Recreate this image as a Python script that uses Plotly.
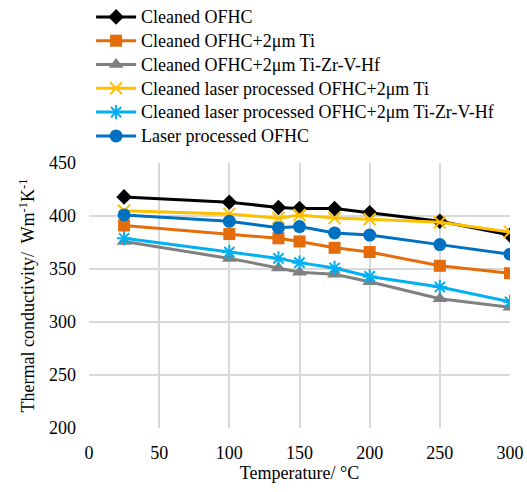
import plotly.graph_objects as go

temperature = [25, 100, 135, 150, 175, 200, 250, 300]

cleaned_ofhc = [418, 413, 408, 407, 407, 403, 395, 382]
cleaned_ofhc_ti = [391, 383, 379, 376, 370, 366, 353, 346]
cleaned_ofhc_tizrvhf = [376, 360, 351, 347, 345, 338, 322, 314]
cleaned_laser_ti = [405, 402, 398, 401, 398, 397, 394, 385]
cleaned_laser_tizrvhf = [379, 366, 360, 356, 351, 343, 333, 319]
laser_ofhc = [401, 395, 389, 390, 384, 382, 373, 364]

series = [
    ("Cleaned OFHC", cleaned_ofhc, "#000000", "diamond", 12, 0),
    ("Cleaned OFHC+2μm Ti", cleaned_ofhc_ti, "#E46C0A", "square", 12, 0),
    ("Cleaned OFHC+2μm Ti-Zr-V-Hf", cleaned_ofhc_tizrvhf, "#808080", "triangle-up", 13, 0),
    ("Cleaned laser processed OFHC+2μm Ti", cleaned_laser_ti, "#FFC000", "x-thin-open", 12, 2),
    ("Cleaned laser processed OFHC+2μm Ti-Zr-V-Hf", cleaned_laser_tizrvhf, "#00B0F0", "asterisk-open", 12, 2),
    ("Laser processed OFHC", laser_ofhc, "#0070C0", "circle", 13, 0),
]

fig = go.Figure()
for name, vals, color, symbol, size, mlw in series:
    marker = dict(symbol=symbol, size=size, color=color)
    if mlw:
        marker["line"] = dict(color=color, width=mlw)
    fig.add_trace(go.Scatter(
        x=temperature, y=vals,
        name=f"<span style='font-size:18px'>{name}</span>",
        mode="lines+markers",
        line=dict(color=color, width=3), marker=marker,
    ))

serif = "Times New Roman"
plot_px = 492 - 0 - 64

fig.update_layout(
    width=527, height=492,
    margin=dict(l=89, r=17, t=0, b=64, autoexpand=False),
    paper_bgcolor="white", plot_bgcolor="white",
    font=dict(family=serif, size=18, color="#000000"),
    showlegend=True,
    legend=dict(
        x=0.005, y=1.0, xanchor="left", yanchor="top",
        yref="paper", xref="paper",
        font=dict(family=serif, size=16, color="#000000"),
        itemwidth=40,
        bgcolor="rgba(0,0,0,0)",
        traceorder="normal",
    ),
    xaxis=dict(
        range=[0, 300], tickvals=[0, 50, 100, 150, 200, 250, 300],
        showgrid=True, gridcolor="#D9D9D9", gridwidth=2,
        zeroline=False, showline=False, ticks="", automargin=False,
        tickfont=dict(family=serif, size=18), ticklabelstandoff=12,
        title=dict(text="Temperature/ °C", font=dict(family=serif, size=18), standoff=4),
    ),
    yaxis=dict(
        range=[200, 450], tickvals=[200, 250, 300, 350, 400, 450],
        domain=[0, 265 / plot_px],
        showgrid=True, gridcolor="#D9D9D9", gridwidth=2,
        zeroline=False, showline=False, ticks="", automargin=False,
        tickfont=dict(family=serif, size=18), ticklabelstandoff=12,
        title=dict(text="Thermal conductivity/  Wm<sup>-1</sup>K<sup>-1</sup>",
                   font=dict(family=serif, size=18), standoff=9),
    ),
)

fig.write_html("out.html")
